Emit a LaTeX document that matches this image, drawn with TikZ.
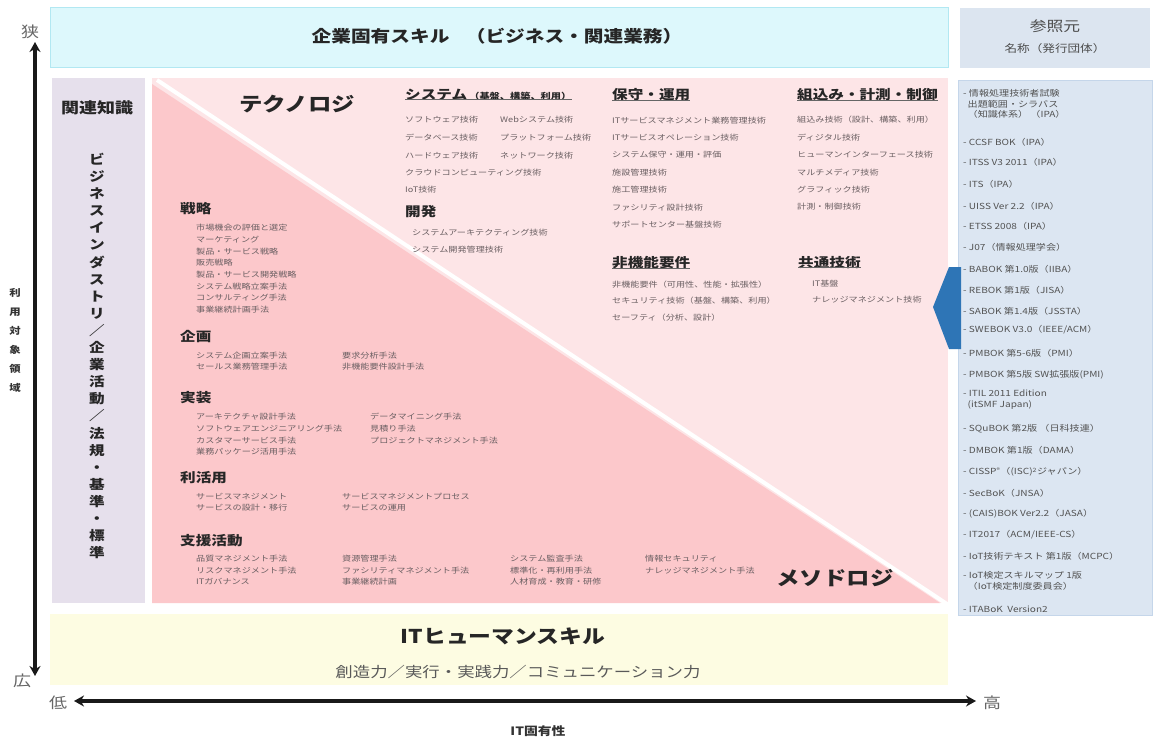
\documentclass[tikz,border=0pt]{standalone}
\usepackage{fontspec}
\setmainfont{Noto Sans CJK JP}[FakeStretch=1.2]
\usetikzlibrary{arrows.meta}
\definecolor{cyanfill}{HTML}{DDF8FC}
\definecolor{cyanline}{HTML}{B2E8F2}
\definecolor{headfill}{HTML}{DCE5F0}
\definecolor{lavfill}{HTML}{E6E0EC}
\definecolor{pinkL}{HTML}{FDE5E7}
\definecolor{pinkD}{HTML}{FCC8CB}
\definecolor{listfill}{HTML}{DCE6F2}
\definecolor{listline}{HTML}{C5D6EA}
\definecolor{yelfill}{HTML}{FDFCE2}
\definecolor{arrowblue}{HTML}{2E75B6}
\definecolor{itemgray}{HTML}{6A5F62}
\begin{document}
\begin{tikzpicture}[x=1pt,y=-1pt,
  hd/.style={anchor=west, inner sep=0pt, font=\bfseries\fontsize{13}{15}\selectfont, text=black!85},
  bighd/.style={inner sep=0pt, font=\bfseries\fontsize{19.5}{22}\selectfont, text=black!85},
  itm/.style={anchor=west, inner sep=0pt, font=\fontsize{7.6}{9}\selectfont, text=itemgray},
  refitm/.style={anchor=west, inner sep=0pt, align=left, font=\fontsize{8.4}{10.8}\selectfont, text=black!68},
  uline/.style={draw=black!60, line width=0.8pt},
  axis/.style={line width=3.2pt, black!90, {Stealth[length=10pt,width=11pt]}-{Stealth[length=10pt,width=11pt]}},
  lbl/.style={inner sep=0pt, font=\fontsize{15}{17}\selectfont, text=black!60}
]
\useasboundingbox (0,0) rectangle (1155,743);
\fill[white] (0,0) rectangle (1155,743);

% ---------- panels ----------
\filldraw[fill=cyanfill, draw=cyanline, line width=1pt] (50,8) rectangle (948,68);
\fill[headfill] (960,8) rectangle (1150,68);
\fill[lavfill] (52,78) rectangle (145,603);
\fill[pinkL] (152,78) rectangle (948,603);
\fill[pinkD] (152,84) -- (152,603) -- (940,603) -- cycle;
\draw[white, line width=4pt] (157,80) -- (947,604);
\filldraw[fill=listfill, draw=listline, line width=0.8pt] (958,80) rectangle (1152,615);
\fill[yelfill] (50,614) rectangle (948,685);
\fill[arrowblue] (961,267) -- (949,267) -- (933,307) -- (949,349) -- (961,349) -- cycle;

% ---------- top ----------
\node[inner sep=0pt, font=\bfseries\fontsize{16.4}{18}\selectfont, text=black!85] (kigyo) at (497,36) {企業固有スキル\quad（ビジネス・関連業務）};
\node[inner sep=0pt, font=\fontsize{14}{16}\selectfont, text=black!70] (sansho) at (1055,26) {参照元};
\node[inner sep=0pt, font=\fontsize{10.5}{12}\selectfont, text=black!70] (meisho) at (1055,49) {名称（発行団体）};

% ---------- left column ----------
\node[inner sep=0pt, font=\bfseries\fontsize{15}{17}\selectfont, text=black!85] (kanren) at (97,108) {関連知識};
\node[inner sep=0pt, align=center, font=\bfseries\fontsize{13}{17.1}\selectfont, text=black!85] (bizv) at (97,356)
 {ビ\\ジ\\ネ\\ス\\イ\\ン\\ダ\\ス\\ト\\リ\\／\\企\\業\\活\\動\\／\\法\\規\\・\\基\\準\\・\\標\\準};

% ---------- technology ----------
\node[bighd] (tech) at (297,104) {テクノロジ};

\node[hd] (sys) at (405,95) {システム\,{\fontsize{8.5}{9}\selectfont（基盤、構築、利用）}};
\draw[uline] ([yshift=1.5pt]sys.south west) -- ([yshift=1.5pt]sys.south east);
\node[itm] (s1) at (405,120) {ソフトウェア技術};
\node[itm] (s2) at (500,120) {Webシステム技術};
\node[itm] (s3) at (405,138) {データベース技術};
\node[itm] (s4) at (500,138) {プラットフォーム技術};
\node[itm] (s5) at (405,156) {ハードウェア技術};
\node[itm] (s6) at (500,156) {ネットワーク技術};
\node[itm] (s7) at (405,173) {クラウドコンピューティング技術};
\node[itm] (s8) at (405,190) {IoT技術};
\node[hd] (dev) at (405,212) {開発};
\node[itm] (d1) at (412,233) {システムアーキテクティング技術};
\node[itm] (d2) at (412,250) {システム開発管理技術};

\node[hd] (hoshu) at (612,95) {保守・運用};
\draw[uline] ([yshift=1.5pt]hoshu.south west) -- ([yshift=1.5pt]hoshu.south east);
\node[itm] (h1) at (612,121) {ITサービスマネジメント業務管理技術};
\node[itm] (h2) at (612,138) {ITサービスオペレーション技術};
\node[itm] (h3) at (612,155) {システム保守・運用・評価};
\node[itm] (h4) at (612,173) {施設管理技術};
\node[itm] (h5) at (612,190) {施工管理技術};
\node[itm] (h6) at (612,208) {ファシリティ設計技術};
\node[itm] (h7) at (612,225) {サポートセンター基盤技術};

\node[hd] (kumi) at (797,95) {組込み・計測・制御};
\draw[uline] ([yshift=1.5pt]kumi.south west) -- ([yshift=1.5pt]kumi.south east);
\node[itm] (k1) at (797,120) {組込み技術（設計、構築、利用）};
\node[itm] (k2) at (797,138) {ディジタル技術};
\node[itm] (k3) at (797,155) {ヒューマンインターフェース技術};
\node[itm] (k4) at (797,173) {マルチメディア技術};
\node[itm] (k5) at (797,190) {グラフィック技術};
\node[itm] (k6) at (797,207) {計測・制御技術};

\node[hd] (hiki) at (612,263) {非機能要件};
\draw[uline] ([yshift=1.5pt]hiki.south west) -- ([yshift=1.5pt]hiki.south east);
\node[itm] (n1) at (612,285) {非機能要件（可用性、性能・拡張性）};
\node[itm] (n2) at (612,301) {セキュリティ技術（基盤、構築、利用）};
\node[itm] (n3) at (612,318) {セーフティ（分析、設計）};

\node[hd] (kyotsu) at (798,263) {共通技術};
\draw[uline] ([yshift=1.5pt]kyotsu.south west) -- ([yshift=1.5pt]kyotsu.south east);
\node[itm] (c1) at (812,284) {IT基盤};
\node[itm] (c2) at (812,300) {ナレッジマネジメント技術};

% ---------- methodology ----------
\node[bighd] (meth) at (835,578) {メソドロジ};

\node[hd] (senryaku) at (180,209) {戦略};
\node[itm] (r1) at (196,228) {市場機会の評価と選定};
\node[itm] (r2) at (196,239.5) {マーケティング};
\node[itm] (r3) at (196,251.5) {製品・サービス戦略};
\node[itm] (r4) at (196,263) {販売戦略};
\node[itm] (r5) at (196,275) {製品・サービス開発戦略};
\node[itm] (r6) at (196,286.5) {システム戦略立案手法};
\node[itm] (r7) at (196,298) {コンサルティング手法};
\node[itm] (r8) at (196,310) {事業継続計画手法};

\node[hd] (kikaku) at (180,337) {企画};
\node[itm] (p1) at (196,356) {システム企画立案手法};
\node[itm] (p2) at (196,367) {セールス業務管理手法};
\node[itm] (p3) at (342,356) {要求分析手法};
\node[itm] (p4) at (342,367) {非機能要件設計手法};

\node[hd] (jisso) at (180,398) {実装};
\node[itm] (j1) at (196,417) {アーキテクチャ設計手法};
\node[itm] (j2) at (196,429) {ソフトウェアエンジニアリング手法};
\node[itm] (j3) at (196,441) {カスタマーサービス手法};
\node[itm] (j4) at (196,452) {業務パッケージ活用手法};
\node[itm] (j5) at (370,417) {データマイニング手法};
\node[itm] (j6) at (370,429) {見積り手法};
\node[itm] (j7) at (370,441) {プロジェクトマネジメント手法};

\node[hd] (rikatsu) at (180,478) {利活用};
\node[itm] (u1) at (196,497) {サービスマネジメント};
\node[itm] (u2) at (196,508) {サービスの設計・移行};
\node[itm] (u3) at (342,497) {サービスマネジメントプロセス};
\node[itm] (u4) at (342,508) {サービスの運用};

\node[hd] (shien) at (180,541) {支援活動};
\node[itm] (a1) at (196,559) {品質マネジメント手法};
\node[itm] (a2) at (196,570.5) {リスクマネジメント手法};
\node[itm] (a3) at (196,582) {ITガバナンス};
\node[itm] (a4) at (342,559) {資源管理手法};
\node[itm] (a5) at (342,570.5) {ファシリティマネジメント手法};
\node[itm] (a6) at (342,582) {事業継続計画};
\node[itm] (a7) at (510,559) {システム監査手法};
\node[itm] (a8) at (510,570.5) {標準化・再利用手法};
\node[itm] (a9) at (510,582) {人材育成・教育・研修};
\node[itm] (a10) at (645,559) {情報セキュリティ};
\node[itm] (a11) at (645,570.5) {ナレッジマネジメント手法};

% ---------- reference list ----------
\node[refitm, anchor=north west] (ref1) at (963,89) {- 情報処理技術者試験\\\ \ 出題範囲・シラバス\\\ \ （知識体系）\ （IPA）};
\node[refitm] (ref2) at (963,142) {- CCSF BOK（IPA）};
\node[refitm] (ref3) at (963,162) {- ITSS V3 2011（IPA）};
\node[refitm] (ref4) at (963,184) {- ITS（IPA）};
\node[refitm] (ref5) at (963,206) {- UISS Ver 2.2（IPA）};
\node[refitm] (ref6) at (963,226) {- ETSS 2008（IPA）};
\node[refitm] (ref7) at (963,247) {- J07（情報処理学会）};
\node[refitm] (ref8) at (963,269) {- BABOK 第1.0版（IIBA）};
\node[refitm] (ref9) at (963,290) {- REBOK 第1版（JISA）};
\node[refitm] (ref10) at (963,311) {- SABOK 第1.4版（JSSTA）};
\node[refitm] (ref11) at (963,330) {- SWEBOK V3.0（IEEE/ACM）};
\node[refitm] (ref12) at (963,353) {- PMBOK 第5-6版（PMI）};
\node[refitm] (ref13) at (963,375) {- PMBOK 第5版 SW拡張版(PMI)};
\node[refitm, anchor=north west] (ref14) at (963,390) {- ITIL 2011 Edition\\\ \ (itSMF Japan)};
\node[refitm] (ref15) at (963,429) {- SQuBOK 第2版\ （日科技連）};
\node[refitm] (ref16) at (963,450) {- DMBOK 第1版（DAMA）};
\node[refitm] (ref17) at (963,472) {- CISSP\textsuperscript{®}（(ISC)\textsuperscript{2}ジャパン）};
\node[refitm] (ref18) at (963,493) {- SecBoK（JNSA）};
\node[refitm] (ref19) at (963,514) {- (CAIS)BOK Ver2.2（JASA）};
\node[refitm] (ref20) at (963,535) {- IT2017（ACM/IEEE-CS）};
\node[refitm] (ref21) at (963,556) {- IoT技術テキスト 第1版（MCPC）};
\node[refitm, anchor=north west] (ref22) at (963,571) {- IoT検定スキルマップ 1版\\\ \ （IoT検定制度委員会）};
\node[refitm] (ref23) at (963,609) {- ITABoK\ \ Version2};

% ---------- bottom ----------
\node[inner sep=0pt, font=\bfseries\fontsize{19}{21}\selectfont, text=black!85] (human) at (503,636) {ITヒューマンスキル};
\node[inner sep=0pt, font=\fontsize{14.5}{16}\selectfont, text=black!65] (human2) at (518,672) {創造力／実行・実践力／コミュニケーション力};

% ---------- axes ----------
\node[lbl] (narrow) at (30,32) {狭};
\node[lbl] (wide) at (22,681) {広};
\node[lbl] (low) at (58,703) {低};
\node[lbl] (high) at (992,703) {高};
\coordinate (vtop) at (35,42);
\coordinate (vbot) at (35,676);
\coordinate (hl) at (74,701);
\coordinate (hr) at (976,701);
\draw[axis] (vtop) -- (vbot);
\draw[axis] (hl) -- (hr);
\node[inner sep=0pt, align=center, font=\bfseries\fontsize{9.5}{19}\selectfont, text=black!80] (riyo) at (15,340) {利\\用\\対\\象\\領\\域};
\node[inner sep=0pt, font=\bfseries\fontsize{11.5}{13}\selectfont, text=black!80] (itkoyu) at (538,731) {IT固有性};
\end{tikzpicture}
\end{document}
